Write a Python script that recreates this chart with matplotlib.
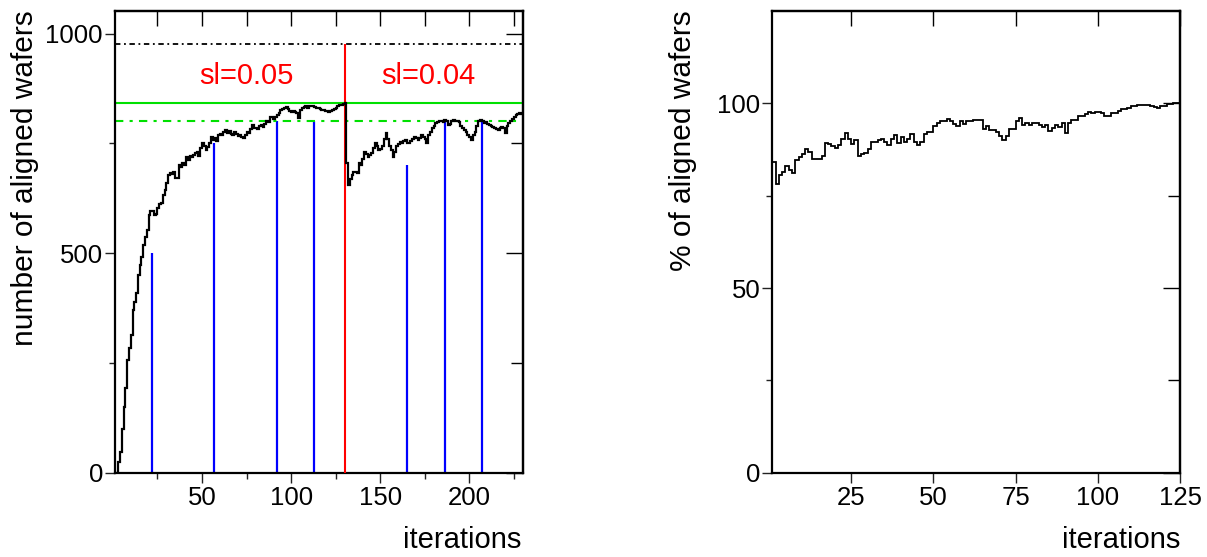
import numpy as np
import matplotlib
matplotlib.use("Agg")
import matplotlib.pyplot as plt
from matplotlib.ticker import FixedLocator, NullFormatter

plt.rcParams['font.family'] = ['Liberation Sans', 'DejaVu Sans']

# ---------------- data ----------------
# left panel: number of aligned wafers per iteration (bins start at iteration 1)
left_counts = [
    0, 0, 25, 48, 101, 151, 193, 257, 284, 314,
    371, 390, 409, 451, 473, 492, 519, 538, 553, 587,
    595, 597, 588, 590, 602, 612, 615, 632, 645, 660,
    678, 683, 680, 684, 672, 671, 701, 696, 705, 700,
    720, 712, 722, 718, 724, 728, 731, 722, 740, 750,
    745, 735, 742, 752, 765, 758, 762, 755, 768, 772,
    768, 777, 780, 774, 779, 772, 769, 775, 772, 766,
    770, 765, 763, 770, 777, 774, 782, 792, 786, 785,
    783, 790, 792, 787, 795, 800, 798, 810, 811, 806,
    811, 815, 820, 826, 828, 830, 832, 828, 824, 822,
    823, 822, 820, 807, 825, 830, 832, 834, 830, 835,
    834, 834, 833, 831, 830, 828, 827, 826, 824, 823,
    822, 824, 826, 828, 830, 834, 837, 838, 840, 842,
    705, 655, 668, 679, 686, 684, 682, 705, 700, 715,
    731, 725, 718, 724, 728, 740, 750, 745, 735, 738,
    745, 760, 773, 760, 743, 735, 720, 730, 743, 748,
    754, 750, 755, 758, 752, 750, 755, 760, 765, 762,
    758, 762, 769, 765, 760, 750, 770, 777, 785, 790,
    796, 798, 800, 802, 798, 803, 800, 792, 795, 800,
    803, 801, 800, 798, 790, 785, 780, 777, 770, 765,
    758, 770, 777, 790, 800, 803, 800, 796, 798, 794,
    792, 790, 788, 785, 782, 781, 785, 788, 786, 773,
    790, 796, 800, 805, 811, 815, 818, 820, 818,
]

# right panel: percentage of aligned wafers per iteration (bins start at iteration 1)
right_pct = [
    84.0, 78.0, 80.5, 81.5, 83.0, 82.0, 81.0, 84.5, 85.5, 86.3,
    87.7, 86.8, 84.8, 84.8, 85.0, 85.6, 89.3, 88.9, 88.5, 87.8,
    88.7, 90.4, 91.8, 90.2, 89.0, 89.9, 85.8, 86.2, 86.5, 87.7,
    89.4, 89.4, 89.9, 90.4, 89.6, 88.7, 90.2, 91.4, 89.3, 90.9,
    89.4, 90.4, 91.7, 89.6, 88.7, 89.6, 91.6, 92.3, 92.3, 93.8,
    94.5, 95.2, 95.2, 95.7, 95.2, 94.4, 93.8, 95.2, 94.4, 95.2,
    95.2, 95.5, 95.5, 95.5, 93.1, 93.8, 92.8, 92.8, 92.3, 91.2,
    89.9, 91.2, 93.1, 93.1, 95.2, 95.9, 94.2, 94.7, 94.2, 94.7,
    94.7, 94.0, 93.5, 94.0, 92.5, 93.3, 94.0, 93.5, 94.7, 91.8,
    94.7, 95.4, 95.4, 96.4, 96.4, 97.1, 97.6, 97.3, 97.6, 97.6,
    97.3, 96.6, 96.6, 97.3, 97.3, 97.9, 98.3, 98.3, 98.6, 99.2,
    99.2, 99.4, 99.4, 99.4, 99.4, 99.2, 99.0, 98.6, 99.2, 99.2,
    99.8, 99.8, 100.0, 100.0,
]

# markers
total_wafers = 977
green_solid_level = 842
green_dash_level = 802
switch_iteration = 130
blue_iterations = [22, 56.5, 92, 113, 165.3, 186.2, 207.1]
blue_heights = [500, 750, 800, 800, 700, 800, 800]
region_labels = ["sl=0.05", "sl=0.04"]
region_label_x = [75, 177]
region_label_y = 904

left_xmajor = [50, 100, 150, 200]
left_xminor = [25, 75, 125, 175, 225]
left_ymajor = [0, 500, 1000]
left_yminor = [250, 750]
right_xmajor = [25, 50, 75, 100, 125]
right_ymajor = [0, 50, 100]
right_yminor = [25, 75]

# ---------------- figure ----------------
W, H = 1207, 557
fig = plt.figure(figsize=(W / 100, H / 100), dpi=100)

def frac_axes(x0, x1, y0, y1):
    return fig.add_axes([x0 / W, 1 - y1 / H, (x1 - x0) / W, (y1 - y0) / H])

ax1 = frac_axes(114.7, 522.7, 10.7, 472.9)
ax2 = frac_axes(772.3, 1180.0, 10.7, 472.9)

TICK_FS = 18.5
LABEL_FS = 21.5
FRAME_LW = 1.6

def style_axes(ax, xmaj, xmin, ymaj, ymin):
    for s in ax.spines.values():
        s.set_linewidth(FRAME_LW)
    ax.xaxis.set_major_locator(FixedLocator(xmaj))
    ax.xaxis.set_minor_locator(FixedLocator(xmin))
    ax.yaxis.set_major_locator(FixedLocator(ymaj))
    ax.yaxis.set_minor_locator(FixedLocator(ymin))
    ax.tick_params(axis='both', which='both', direction='out', top=False, right=False,
                   labelsize=TICK_FS, width=1.0, colors='#222222', labelcolor='black')
    ax.tick_params(axis='both', which='major', length=7)
    ax.tick_params(axis='both', which='minor', length=4)
    ax.tick_params(axis='x', which='major', pad=2.5)
    ax.tick_params(axis='y', which='major', pad=1.5)
    # inward ticks on top and right
    sx = ax.secondary_xaxis('top')
    sx.xaxis.set_major_locator(FixedLocator(xmaj))
    sx.xaxis.set_minor_locator(FixedLocator(xmin))
    sx.xaxis.set_major_formatter(NullFormatter())
    sx.tick_params(axis='x', which='both', direction='in', length=11, width=1.0)
    sx.spines['top'].set_linewidth(FRAME_LW)
    sy = ax.secondary_yaxis('right')
    sy.yaxis.set_major_locator(FixedLocator(ymaj))
    sy.yaxis.set_minor_locator(FixedLocator(ymin))
    sy.yaxis.set_major_formatter(NullFormatter())
    sy.tick_params(axis='y', which='major', direction='in', length=12, width=1.0)
    sy.tick_params(axis='y', which='minor', direction='in', length=9, width=1.0)
    sy.spines['right'].set_linewidth(FRAME_LW)

# ---- left panel ----
left_edges = np.arange(1, len(left_counts) + 2)
ax1.set_xlim(1, 230)
ax1.set_ylim(0, 1052)
ax1.vlines(blue_iterations, 0, blue_heights, colors='#0000ff', linewidth=1.6, zorder=2)
ax1.hlines(total_wafers, 1, 230, colors='black', linewidth=1.3,
           linestyles=(0, (3, 2, 1, 2)), zorder=2)
ax1.hlines(green_solid_level, 1, 230, colors='#00e000', linewidth=1.5, zorder=2)
ax1.hlines(green_dash_level, 1, 230, colors='#00e000', linewidth=1.5,
           linestyles=(0, (4, 3, 1.5, 3)), zorder=2)
ax1.vlines([switch_iteration], 0, total_wafers, colors='#ff0000', linewidth=1.5, zorder=3)
ax1.stairs(left_counts, left_edges, color='black', linewidth=1.6, zorder=4, baseline=None)
for lbl, lx in zip(region_labels, region_label_x):
    ax1.text(lx, region_label_y, lbl, color='#ff0000', fontsize=21,
             ha='center', va='center')
style_axes(ax1, left_xmajor, left_xminor, left_ymajor, left_yminor)

# ---- right panel ----
right_edges = np.arange(1, len(right_pct) + 2)
ax2.set_xlim(1, 125)
ax2.set_ylim(0, 125)
ax2.stairs(right_pct, right_edges, color='black', linewidth=1.3, zorder=4, baseline=None)
style_axes(ax2, right_xmajor, [], right_ymajor, right_yminor)

# ---- axis titles ----
fig.text(521.7 / W, 1 - 548 / H, "iterations", fontsize=21, ha='right', va='baseline')
fig.text(1180 / W, 1 - 548 / H, "iterations", fontsize=21, ha='right', va='baseline')
fig.text(25 / W, 1 - 10 / H, "number of aligned wafers", fontsize=LABEL_FS,
         rotation=90, ha='center', va='top')
fig.text(683 / W, 1 - 10 / H, "% of aligned wafers", fontsize=LABEL_FS,
         rotation=90, ha='center', va='top')

fig.savefig("out.png", dpi=100)
